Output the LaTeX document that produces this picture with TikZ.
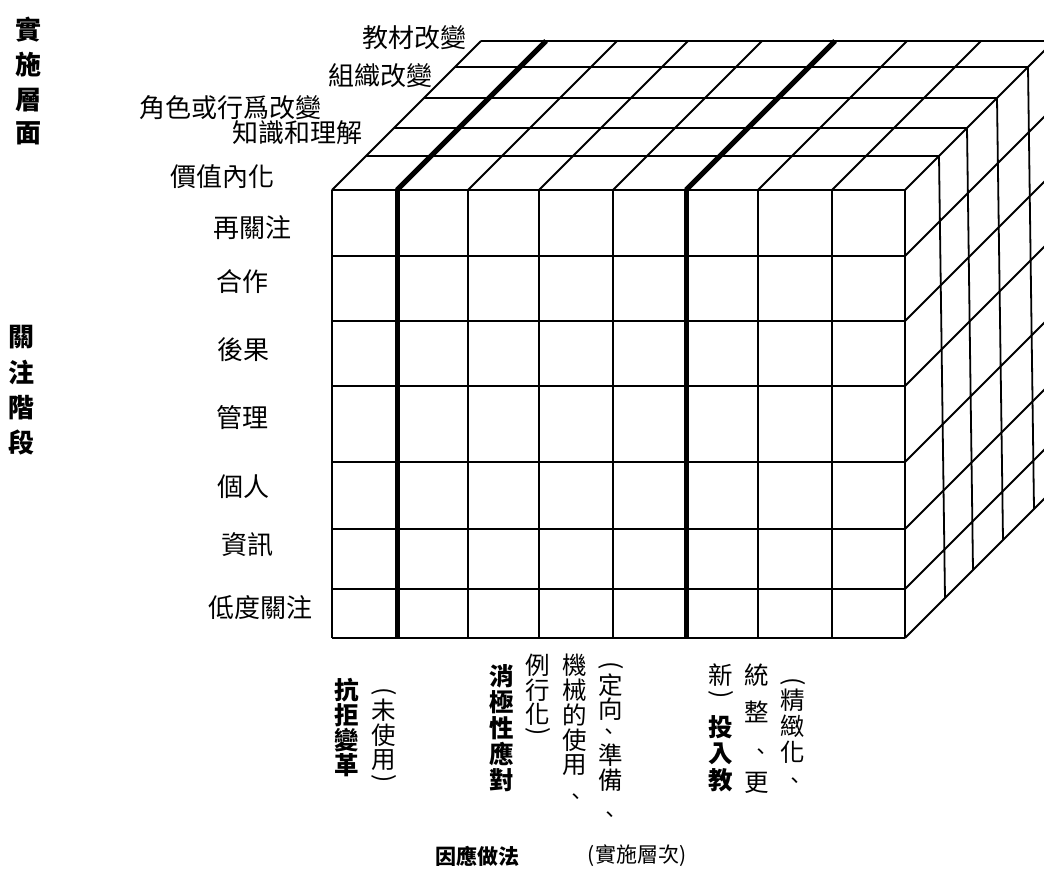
\documentclass[tikz,border=0pt]{standalone}
\usepackage{fontspec}
\usepackage{graphicx}
\newfontfamily\cjk{Noto Sans CJK TC}
\newcommand\dunhao{\makebox[0pt]{\smash{\raisebox{-0.38em}{、}}}}
\begin{document}
\begin{tikzpicture}[x=1pt,y=-1pt,
  gridline/.style={line width=1.8pt},
  boldline/.style={line width=5pt},
  lab/.style={font=\cjk\fontsize{26}{26}\selectfont, inner sep=0pt},
  vch/.style={font=\cjk\fontsize{24.5}{25}\selectfont, inner sep=0pt},
  vcm/.style={font=\cjk\fontsize{21}{21}\selectfont, inner sep=0pt},
  vbd/.style={font=\cjk\bfseries\fontsize{24.5}{25}\selectfont, inner sep=0pt},
  side/.style={font=\cjk\bfseries\fontsize{26}{26}\selectfont, inner sep=0pt},
  footb/.style={font=\cjk\bfseries\fontsize{21}{21}\selectfont, inner sep=0pt},
  footr/.style={font=\cjk\fontsize{21}{21}\selectfont, inner sep=0pt}]
\useasboundingbox (0,0) rectangle (1044,868);
\begin{scope}
\clip (0,0) rectangle (1044,868);
% front face rows
\foreach \y in {190,256,321,386,462,529,589,638} \draw[gridline] (332,\y) -- (905,\y);
% front face columns
\foreach \x in {332,468,539,613,758,832,905} \draw[gridline] (\x,190) -- (\x,638);
\foreach \x in {397,686} \draw[boldline] (\x,190) -- (\x,638);
% top face layers
\foreach \d in {34,62,92,123,149} \draw[gridline] (332+\d,190-\d) -- (905+\d,190-\d);
% top face diagonals
\foreach \x in {332,468,539,613,758,832,905} \draw[gridline] (\x,190) -- (\x+149,41);
\foreach \x in {397,686} \draw[boldline] (\x,190) -- (\x+149,41);
% right face verticals
\foreach \d in {34,62,92,123,149} \draw[gridline] (905+\d,190-\d) -- (911+\d,632-\d);
% right face diagonals
\foreach \y in {256,321,386,462,529,589,638} \draw[gridline] (905,\y) -- (1054,\y-149);
\end{scope}
% side titles
\foreach \c/\y [count=\i] in {實/30,施/65,層/100,面/133} \node[side] (s\i) at (29,\y) {\c};
\foreach \c/\y [count=\i] in {關/337,注/372,階/408,段/442} \node[side] (t\i) at (22,\y) {\c};
% implementation level labels
\node[lab] (l1) at (414,38) {教材改變};
\node[lab] (l2) at (380,76) {組織改變};
\node[lab] (l3) at (230,108) {角色或行爲改變};
\node[lab] (l4) at (297,133) {知識和理解};
\node[lab] (l5) at (222,177) {價值內化};
% concern stage labels
\node[lab] (c1) at (252,228) {再關注};
\node[lab] (c2) at (242,282) {合作};
\node[lab] (c3) at (243,350) {後果};
\node[lab] (c4) at (242,418) {管理};
\node[lab] (c5) at (243,487) {個人};
\node[lab] (c6) at (247,545) {資訊};
\node[lab] (c7) at (260,608) {低度關注};
% column A
\foreach \c/\y [count=\i] in {抗/690,拒/715,變/740,革/765} \node[vbd] (a\i) at (347,\y) {\c};
% column B
\node[vch,rotate=-90] (b0) at (384,692) {(};
\foreach \c/\y [count=\i] in {未/710,使/735,用/760} \node[vch] (b\i) at (384,\y) {\c};
\node[vch,rotate=-90] (b9) at (384,779) {)};
% column C
\foreach \c/\y [count=\i] in {消/676,極/702,性/728,應/754,對/780} \node[vbd] (cc\i) at (502,\y) {\c};
% column D
\foreach \c/\y [count=\i] in {例/665,行/690,化/714} \node[vch] (d\i) at (538,\y) {\c};
\node[vch,rotate=-90] (d9) at (538,732) {)};
% column E
\foreach \c/\y [count=\i] in {機/665,械/690,的/715,使/740,用/765} \node[vch] (e\i) at (575,\y) {\c};
\node[vcm] (e9) at (576,797) {\dunhao};
% column F
\node[vch,rotate=-90] (f0) at (611,666) {(};
\foreach \c/\y [count=\i] in {定/685,向/709,準/755,備/780} \node[vch] (f\i) at (611,\y) {\c};
\node[vcm] (f8) at (609,732) {\dunhao};
\node[vcm] (f9) at (610,815) {\dunhao};
% column G
\node[vch] (g1) at (721,675) {新};
\node[vch,rotate=-90] (g2) at (721,695) {)};
\foreach \c/\y [count=\i] in {投/727,入/754,教/780} \node[vbd] (gb\i) at (721,\y) {\c};
% column H
\foreach \c/\y [count=\i] in {統/675,整/712,更/783} \node[vch] (h\i) at (757,\y) {\c};
\node[vcm] (h9) at (761,752) {\dunhao};
% column I
\node[vch,rotate=-90] (i0) at (793,682) {(};
\foreach \c/\y [count=\i] in {精/700,緻/726,化/752} \node[vch] (i\i) at (793,\y) {\c};
\node[vcm] (i9) at (795,781) {\dunhao};
% footer
\node[footb] (fa) at (477,856) {因應做法};
\node[footr] (fb) at (637,856) {(實施層次)};
\end{tikzpicture}
\end{document}
